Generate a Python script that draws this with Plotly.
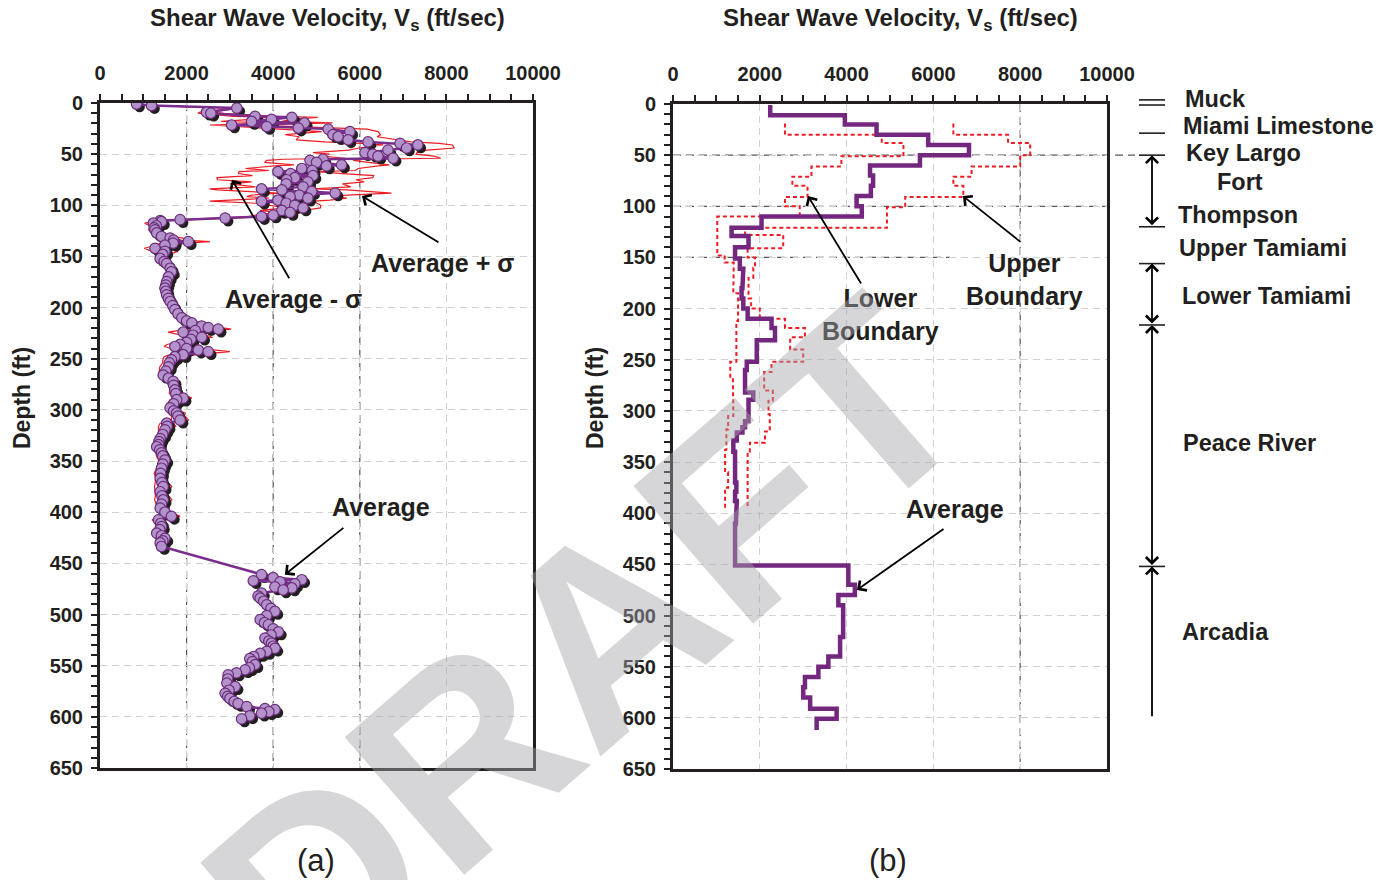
import plotly.graph_objects as go

W, H = 1385, 880
INK = '#231F20'
FONT = 'Liberation Sans, Arial, sans-serif'

# ---------------- Panel (a): measured profile, average +/- sigma ----------------
depth_a_upper = [
    1, 2.5, 5, 9, 10, 13, 14, 16, 18, 19.5,
    21.5, 23, 24.5, 25.5, 28, 31, 33, 36, 38, 39.5,
    41, 44, 46, 48.5, 50, 52, 54, 55, 56, 58,
    60.5, 61.5, 64, 66, 67, 69, 71, 73, 75, 77,
    79, 82, 84, 85, 86.5, 88, 90, 91.5, 93, 95,
    96, 98, 100, 102.5, 105, 107, 109.5, 111, 112.5, 114,
    115, 116, 117.5, 120, 122, 124, 127, 130.5, 132, 134,
    135.5, 137, 139, 142, 145, 148, 152, 155, 157, 161.5,
    165, 170, 174.5, 178, 181, 184, 187.5, 191, 194, 198,
    202, 206, 210, 213, 215, 218, 219.5, 221, 222.5, 224,
    227, 229, 231, 234, 236, 238, 240, 241.5, 243, 246,
    248, 251, 254, 258, 262, 266, 269, 272, 276, 280.5,
    284, 288.5, 290, 294, 298, 301, 303, 306, 310, 313,
    316, 319.5, 324, 328, 331, 334, 336, 339, 342, 345,
    349, 353, 357, 362, 367, 371, 375, 380, 384, 388,
    392, 396, 400, 404, 407.5, 411, 414, 417, 420.5, 423,
    425.5, 428, 430, 433.5]
vel_a_upper = [
    845, 1190, 3160, 2460, 2560, 3580, 4430, 3960, 3500, 4720,
    3040, 3850, 4580, 5270, 5770, 5380, 5500, 5730, 6190, 6930,
    7340, 7080, 6650, 6120, 6300, 6420, 6770, 5150, 4850, 5000,
    5580, 5230, 4660, 4900, 4110, 4400, 4920, 4500, 4310, 4800,
    4300, 4690, 3730, 4200, 4890, 5430, 4600, 4390, 4800, 4110,
    3730, 4300, 4500, 4690, 4200, 4390, 4000, 3730, 2890, 1850,
    1390, 1420, 1230, 1300, 1250, 1270, 1310, 1420, 1620, 1700,
    2040, 1690, 1500, 1270, 1500, 1450, 1390, 1480, 1540, 1620,
    1650, 1580, 1540, 1520, 1500, 1520, 1540, 1580, 1620, 1680,
    1730, 1800, 1890, 2000, 2120, 2350, 2500, 2730, 2200, 1920,
    2150, 2350, 2100, 2000, 1850, 1730, 2000, 2270, 2500, 1920,
    1730, 1650, 1600, 1580, 1520, 1460, 1580, 1690, 1700, 1730,
    1750, 1920, 1770, 1700, 1620, 1700, 1770, 1800, 1850, 1540,
    1550, 1500, 1450, 1390, 1360, 1350, 1310, 1380, 1420, 1450,
    1500, 1450, 1420, 1400, 1390, 1430, 1460, 1390, 1430, 1460,
    1420, 1390, 1500, 1650, 1350, 1400, 1420, 1380, 1310, 1420,
    1500, 1450, 1390, 1420]
sigma_a_upper = [
    0, 0, 0, 150, 300, 500, 600, 450, 700, 650,
    500, 700, 800, 900, 650, 1100, 900, 1200, 1000, 900,
    800, 1100, 900, 1200, 1000, 1300, 1100, 900, 1000, 1200,
    1100, 1200, 1300, 1000, 900, 1200, 1400, 1800, 1600, 1300,
    1300, 1100, 1200, 1500, 1400, 1300, 1100, 1000, 900, 1200,
    1200, 700, 600, 400, 500, 300, 400, 300, 200, 150,
    100, 150, 200, 150, 100, 150, 100, 200, 300, 250,
    500, 300, 200, 250, 300, 150, 100, 100, 80, 100,
    80, 60, 60, 50, 60, 60, 80, 60, 70, 80,
    100, 120, 100, 150, 200, 250, 300, 300, 400, 350,
    300, 250, 200, 250, 300, 250, 350, 400, 500, 300,
    250, 200, 150, 200, 150, 100, 120, 150, 100, 120,
    150, 200, 150, 150, 100, 150, 200, 150, 200, 150,
    200, 150, 100, 100, 80, 100, 80, 100, 120, 150,
    150, 100, 120, 150, 100, 150, 200, 120, 150, 200,
    120, 100, 150, 200, 150, 100, 120, 100, 100, 120,
    100, 80, 60, 50]
depth_a_lower = [
    461, 464, 466, 467, 468, 470, 473, 474, 476, 479,
    482, 484, 487, 490.5, 494, 497, 501, 505, 508, 510,
    514, 517, 520, 523, 526, 528, 531, 533, 536, 538,
    541, 543, 546, 549, 552, 554, 557, 559, 563, 567,
    570.5, 574, 577, 580, 582, 585, 587, 590, 592, 593,
    595, 596.5, 599, 602]
vel_a_lower = [
    3730, 4000, 4660, 3540, 4160, 4500, 4040, 4430, 4230, 3730,
    3650, 3700, 3780, 3850, 3950, 4040, 3850, 3700, 3800, 3890,
    4000, 4120, 3950, 3810, 3900, 3960, 4000, 4040, 3850, 3700,
    3550, 3460, 3520, 3580, 3450, 3350, 3150, 2960, 2950, 2930,
    3120, 2980, 2890, 2950, 3000, 3100, 3190, 3390, 3810, 4040,
    3900, 3730, 3460, 3270]

# ---------------- Panel (b): layered average and boundaries ----------------
edges_avg_b = [1, 11, 20, 30, 40, 50, 60, 70, 80, 90,
               100, 110, 121, 129, 140, 151, 161, 170, 180, 190,
               200, 210, 219, 231, 252, 260, 282, 289, 310, 316,
               321, 329, 340, 370, 379, 388, 394, 410, 451, 470,
               480, 490, 521, 540, 550, 560, 570, 580, 591, 601, 612]
vel_avg_b = [2240, 3960, 4690, 5880, 6820, 5690, 4540, 4610, 4560, 4230,
             4350, 2040, 1350, 1740, 1430, 1540, 1620, 1600, 1580, 1620,
             1720, 2270, 2350, 1930, 1700, 1660, 1850, 1740, 1660, 1600,
             1470, 1390, 1430, 1460, 1430, 1470, 1450, 1430, 4040, 4190,
             3810, 3920, 3850, 3580, 3350, 3040, 3000, 3160, 3770, 3310]
edges_upper_b = [19, 30, 38, 50, 61, 71, 80, 91, 101, 121,
                 128, 141, 150, 160, 170, 190, 200, 210, 219, 228,
                 240, 252, 262, 280, 290, 303, 320, 331, 340, 395]
vel_upper_b = [6460, 7720, 8230, 8000, 6880, 6460, 6690, 5350, 4930, 1660,
               2540, 1720, 1890, 1850, 1740, 1800, 2000, 2580, 3040, 2700,
               3000, 2270, 2100, 2300, 2200, 2230, 2120, 1770, 1720]
edges_lower_b = [19, 30, 38, 51, 61, 71, 80, 91, 100, 110,
                 148, 155, 165, 185, 212, 252, 268, 289, 305, 318,
                 338, 360, 375, 395]
vel_lower_b = [2580, 4810, 5310, 3880, 3190, 2750, 3100, 2580, 2920, 1020,
               1190, 1400, 1390, 1500, 1460, 1320, 1380, 1390, 1270, 1230,
               1200, 1270, 1200]

# ---------------- Geology column ----------------
strata_names = ['Muck', 'Miami Limestone', 'Key Largo', 'Fort', 'Thompson',
                'Upper Tamiami', 'Lower Tamiami', 'Peace River', 'Arcadia']
strata_label_depth = [-5, 21.5, 48, 76, 108.5, 141, 188, 331, 516]
strata_label_xpx = [1183, 1181, 1184, 1215, 1176, 1177, 1180, 1181, 1180]
boundary_depths = [-4, 1, 28.5, 50, 120, 156, 216, 452]
arrow_spans = [(50, 120, 'end+start'), (156, 216, 'end+start'),
               (216, 452, 'end+start'), (452, 600, 'end')]

# ---------------- Layout geometry (reference pixel positions) ----------------
def px(x):
    return x / W


def py(y):
    return 1 - y / H


xa_dom = [px(100), px(533)]
xb_dom = [px(673), px(1107)]
ya_dom = [py(768), py(103)]
yb_dom = [py(769), py(104)]


def ypaper_b(d):
    return yb_dom[1] - d / 650.0 * (yb_dom[1] - yb_dom[0])


ft_px_b = (yb_dom[1] - yb_dom[0]) * H / 650.0


def steps(edges, vals):
    xs, ys = [], []
    for i, v in enumerate(vals):
        xs += [v, v]
        ys += [edges[i], edges[i + 1]]
    return xs, ys


fig = go.Figure()

# Panel (a) traces
fig.add_trace(go.Scatter(x=[v + s for v, s in zip(vel_a_upper, sigma_a_upper)], y=depth_a_upper,
                         mode='lines', line=dict(color='#EE1D23', width=1.2),
                         xaxis='x', yaxis='y', showlegend=False, hoverinfo='skip'))
fig.add_trace(go.Scatter(x=[v - s for v, s in zip(vel_a_upper, sigma_a_upper)], y=depth_a_upper,
                         mode='lines', line=dict(color='#EE1D23', width=1.2),
                         xaxis='x', yaxis='y', showlegend=False, hoverinfo='skip'))
vel_a = vel_a_upper + vel_a_lower
depth_a = depth_a_upper + depth_a_lower
fig.add_trace(go.Scatter(x=[v + 70 for v in vel_a], y=[d + 3 for d in depth_a], mode='markers',
                         marker=dict(size=10.5, color=INK), xaxis='x', yaxis='y',
                         showlegend=False, hoverinfo='skip'))
fig.add_trace(go.Scatter(x=vel_a, y=depth_a, mode='lines+markers',
                         line=dict(color='#7A2E8C', width=2.5),
                         marker=dict(size=10.5, color='#B391CB', line=dict(color='#6A2C7A', width=1.2)),
                         xaxis='x', yaxis='y', showlegend=False))

# Panel (b) traces
for edges, vals in ((edges_upper_b, vel_upper_b), (edges_lower_b, vel_lower_b)):
    xs, ys = steps(edges, vals)
    fig.add_trace(go.Scatter(x=xs, y=ys, mode='lines',
                             line=dict(color='#EE1D23', width=2, dash='4px,3px'),
                             xaxis='x2', yaxis='y2', showlegend=False, hoverinfo='skip'))
xs, ys = steps(edges_avg_b, vel_avg_b)
fig.add_trace(go.Scatter(x=xs, y=ys, mode='lines', line=dict(color='#74277F', width=4.5),
                         xaxis='x2', yaxis='y2', showlegend=False))

tickfont = dict(family=FONT, size=20, color=INK, weight='bold')


def xcfg(dom, anchor):
    return dict(domain=dom, anchor=anchor, side='top', range=[0, 10000], dtick=2000, tick0=0,
                tickformat='d',
                showline=True, linewidth=3, linecolor=INK, mirror=True,
                ticks='outside', ticklen=6, tickwidth=2, tickcolor=INK,
                minor=dict(dtick=500, ticks='outside', ticklen=6, tickwidth=2,
                           tickcolor=INK, showgrid=False),
                showgrid=True, gridcolor='#D2D2D2', griddash='7px,5px', gridwidth=1,
                zeroline=False, tickfont=tickfont, ticklabelstandoff=6, automargin=False)


def ycfg(dom, anchor):
    return dict(domain=dom, anchor=anchor, range=[650, 0], dtick=50, tick0=0,
                tickformat='d',
                showline=True, linewidth=3, linecolor=INK, mirror=True,
                ticks='outside', ticklen=6, tickwidth=2, tickcolor=INK,
                minor=dict(dtick=10, ticks='outside', ticklen=6, tickwidth=2,
                           tickcolor=INK, showgrid=False),
                showgrid=True, gridcolor='#D2D2D2', griddash='7px,5px', gridwidth=1,
                zeroline=False, tickfont=tickfont, ticklabelstandoff=4, automargin=False)


shapes = []
dark = dict(color='#58595B', width=1.2, dash='8px,5px')
for v in [2000, 4000, 6000]:
    shapes.append(dict(type='line', xref='x', yref='y', x0=v, x1=v, y0=0, y1=650,
                       line=dark, layer='below'))
shapes.append(dict(type='line', xref='x2', yref='y2', x0=8000, x1=8000, y0=0, y1=650,
                   line=dark, layer='below'))
for d, xend in [(50, 1135), (100, 1108), (150, 950)]:
    shapes.append(dict(type='line', xref='paper', yref='paper', x0=xb_dom[0], x1=px(xend),
                       y0=ypaper_b(d), y1=ypaper_b(d), line=dark, layer='below'))

# geology boundary ticks
for d in boundary_depths:
    shapes.append(dict(type='line', xref='paper', yref='paper', x0=px(1139), x1=px(1165),
                       y0=ypaper_b(d), y1=ypaper_b(d), line=dict(color=INK, width=1.6)))

ann = []


def text_ann(t, xc, yc, size, angle=0, xanchor='center'):
    ann.append(dict(text=t, x=px(xc), y=py(yc), xref='paper', yref='paper',
                    xanchor=xanchor, yanchor='middle', textangle=angle, showarrow=False,
                    align='center', font=dict(family=FONT, size=size, color=INK)))


title_txt = '<b>Shear Wave Velocity, V<sub>s</sub> (ft/sec)</b>'
for xc in (327, 900):
    text_ann(title_txt, xc, 19, 24)
for xc in (22, 595):
    text_ann('<b>Depth (ft)</b>', xc, 398, 23, angle=-90)
for xc, t in ((316, '(a)'), (888, '(b)')):
    text_ann(t, xc, 860, 31)

for t, xc, yc in (('Average + σ', 442, 263), ('Average - σ', 293, 299), ('Average', 381, 507),
                  ('Lower<br>Boundary', 880, 315), ('Upper<br>Boundary', 1024, 280),
                  ('Average', 955, 509)):
    text_ann('<b>' + t + '</b>', xc, yc, 25)

# arrows (head in data coords, tail offset in px)
for xr, yr, v, d, ax, ay in (('x', 'y', 6050, 91, 78, 47), ('x', 'y', 3050, 75, 58, 100),
                             ('x', 'y', 4270, 461, 60, -48), ('x2', 'y2', 3110, 90, 54, 89),
                             ('x2', 'y2', 6680, 90, 59, 47), ('x2', 'y2', 4240, 475, 88, -62)):
    ann.append(dict(text='', x=v, y=d, xref=xr, yref=yr, ax=ax, ay=ay, axref='pixel', ayref='pixel',
                    showarrow=True, arrowhead=4, arrowsize=1.3, arrowwidth=1.8, arrowcolor='#000000'))

# geology labels and arrows
for name, d, xl in zip(strata_names, strata_label_depth, strata_label_xpx):
    ann.append(dict(text='<b>' + name + '</b>', x=px(xl), y=ypaper_b(d), xref='paper', yref='paper',
                    xanchor='left', yanchor='middle', showarrow=False,
                    font=dict(family=FONT, size=23.5, color=INK)))
for d0, d1, side in arrow_spans:
    ann.append(dict(text='', x=px(1152), y=ypaper_b(d0), xref='paper', yref='paper',
                    ax=0, ay=(d1 - d0) * ft_px_b, axref='pixel', ayref='pixel',
                    showarrow=True, arrowhead=4, startarrowhead=4, arrowside=side,
                    arrowsize=1.3, startarrowsize=1.3, arrowwidth=1.8, arrowcolor='#000000'))

# watermark
ann.append(dict(text='<b>DRAFT</b>', x=px(585), y=py(648), xref='paper', yref='paper',
                xanchor='center', yanchor='middle', textangle=-41, showarrow=False,
                font=dict(family=FONT, size=265, color='rgba(165,165,170,0.45)')))

fig.update_layout(
    width=W, height=H, autosize=False,
    margin=dict(l=0, r=0, t=0, b=0),
    paper_bgcolor='white', plot_bgcolor='white',
    xaxis=xcfg(xa_dom, 'y'), yaxis=ycfg(ya_dom, 'x'),
    xaxis2=xcfg(xb_dom, 'y2'), yaxis2=ycfg(yb_dom, 'x2'),
    shapes=shapes, annotations=ann, showlegend=False,
)

fig.write_html('out.html', config={'displayModeBar': False},
               post_script="document.body.style.margin='0';")
